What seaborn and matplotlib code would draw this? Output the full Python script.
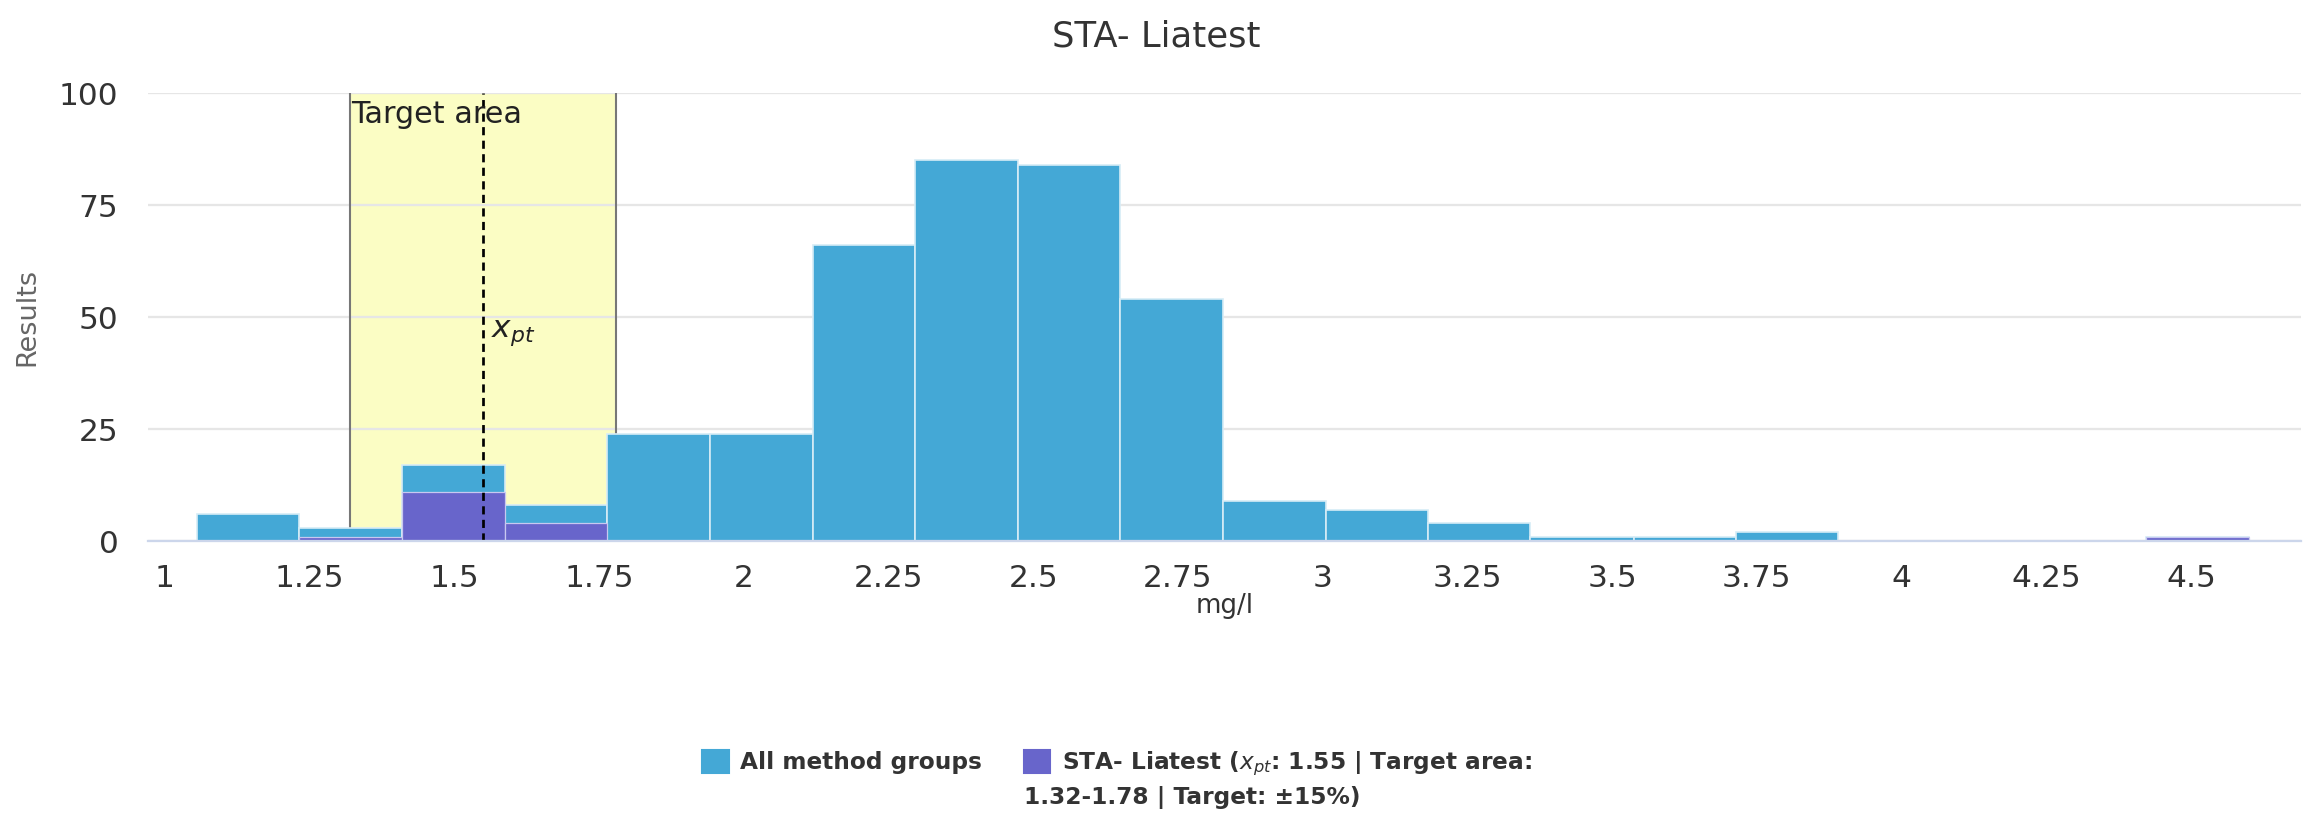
import numpy as np
import pandas as pd
import matplotlib
matplotlib.use("Agg")
import matplotlib.pyplot as plt
from matplotlib.patches import Patch
from matplotlib.ticker import FuncFormatter
import seaborn as sns

# histogram bins (mg/l) and counts
bin_edges = [1.055, 1.232, 1.41, 1.587, 1.764, 1.941, 2.119, 2.296, 2.473, 2.65,
             2.828, 3.005, 3.182, 3.359, 3.537, 3.714, 3.891, 4.068, 4.246, 4.423, 4.6]
all_counts = [6, 3, 17, 8, 24, 24, 66, 85, 84, 54, 9, 7, 4, 1, 1, 2, 0, 0, 0, 1]
sta_counts = [0, 1, 11, 4, 0, 0, 0, 0, 0, 0, 0, 0, 0, 0, 0, 0, 0, 0, 0, 1]

x_pt = 1.55
target_low = 1.32
target_high = 1.78

x_ticks = [1, 1.25, 1.5, 1.75, 2, 2.25, 2.5, 2.75, 3, 3.25, 3.5, 3.75, 4, 4.25, 4.5]
y_ticks = [0, 25, 50, 75, 100]

label_all = "All method groups"
label_sta_1 = "STA- Liatest ($x_{pt}$: 1.55 | Target area:"
label_sta_2 = "1.32-1.78 | Target: ±15%)"

blue = "#44a8d6"
purple = "#6865cb"

centers = [(a + b) / 2 for a, b in zip(bin_edges[:-1], bin_edges[1:])]
df = pd.DataFrame({"center": centers, "all": all_counts, "sta": sta_counts})

sns.set_theme(style="white")
plt.rcParams['font.family'] = ['DejaVu Sans']

fig = plt.figure(figsize=(2313 / 150, 818 / 150), dpi=150)
ax = fig.add_axes([0.0638, 0.3386, 0.931, 0.5474])

# target area band
ax.axvspan(target_low, target_high, color="#fbfdc4", zorder=0, lw=0)
ax.vlines([target_low, target_high], 0, 100, colors="#777777", lw=1, zorder=0.6)

sns.histplot(data=df, x="center", weights="all", bins=bin_edges, color=blue,
             alpha=1, edgecolor="#d6ecf6", linewidth=0.8, ax=ax, zorder=1)
sns.histplot(data=df, x="center", weights="sta", bins=bin_edges, color=purple,
             alpha=1, edgecolor="#c8c8f0", linewidth=0.6, ax=ax, zorder=1.1)

ax.vlines(x_pt, 0, 100, colors="black", linestyles=(0, (3, 2)), lw=1.3, zorder=3)
ax.text(target_low + 0.002, 98.4, "Target area", ha="left", va="top",
        fontsize=14.5, color="#222222", zorder=4)
ax.text(x_pt + 0.014, 46.5, r"$x_{pt}$", ha="left", va="center",
        fontsize=15, color="#222222", zorder=4)

ax.set_xlim(0.97, 4.69)
ax.set_ylim(0, 100)
ax.set_xticks(x_ticks)
ax.set_yticks(y_ticks)
ax.xaxis.set_major_formatter(FuncFormatter(lambda v, p: f"{v:g}"))

ax.yaxis.grid(True, color="#e6e6e6", lw=1.1)
ax.xaxis.grid(False)
ax.set_axisbelow(True)
for s in ["top", "right", "left"]:
    ax.spines[s].set_visible(False)
ax.spines["bottom"].set_color("#ccd6eb")
ax.spines["bottom"].set_linewidth(1.1)
ax.spines["bottom"].set_zorder(5)

ax.tick_params(axis="x", length=7, width=1, color="#ccd6eb", labelsize=15,
               labelcolor="#333333", pad=4)
ax.tick_params(axis="y", length=0, labelsize=15, labelcolor="#333333", pad=14)

ax.set_xlabel("mg/l", fontsize=12.5, color="#333333")
ax.xaxis.set_label_coords(0.5, -0.115)
ax.set_ylabel("Results", fontsize=13, color="#666666")
ax.yaxis.set_label_coords(-0.050, 0.5)

fig.text(0.5, 0.955, "STA- Liatest", ha="center", va="center", fontsize=17, color="#333333")

handles = [Patch(facecolor=blue, edgecolor=blue), Patch(facecolor=purple, edgecolor=purple)]
leg = fig.legend(handles, [label_all, label_sta_1], ncol=2, loc="center left",
                 bbox_to_anchor=(0.2945, 0.066), frameon=False,
                 prop={"weight": "bold", "size": 11.2}, handlelength=1.13,
                 handleheight=1.13, handletextpad=0.5, columnspacing=1.8)
for t in leg.get_texts():
    t.set_color("#333333")

fig.canvas.draw()
hb = leg.legend_handles[1].get_window_extent()
tb = leg.get_texts()[1].get_window_extent()
inv = fig.transFigure.inverted()
x0, _ = inv.transform((hb.x0, 0))
_, y0 = inv.transform((0, tb.y0))
fig.text(x0, y0 - 0.009, label_sta_2, ha="left", va="top", fontsize=11.2,
         fontweight="bold", color="#333333")

fig.savefig("out.png", dpi=150)
